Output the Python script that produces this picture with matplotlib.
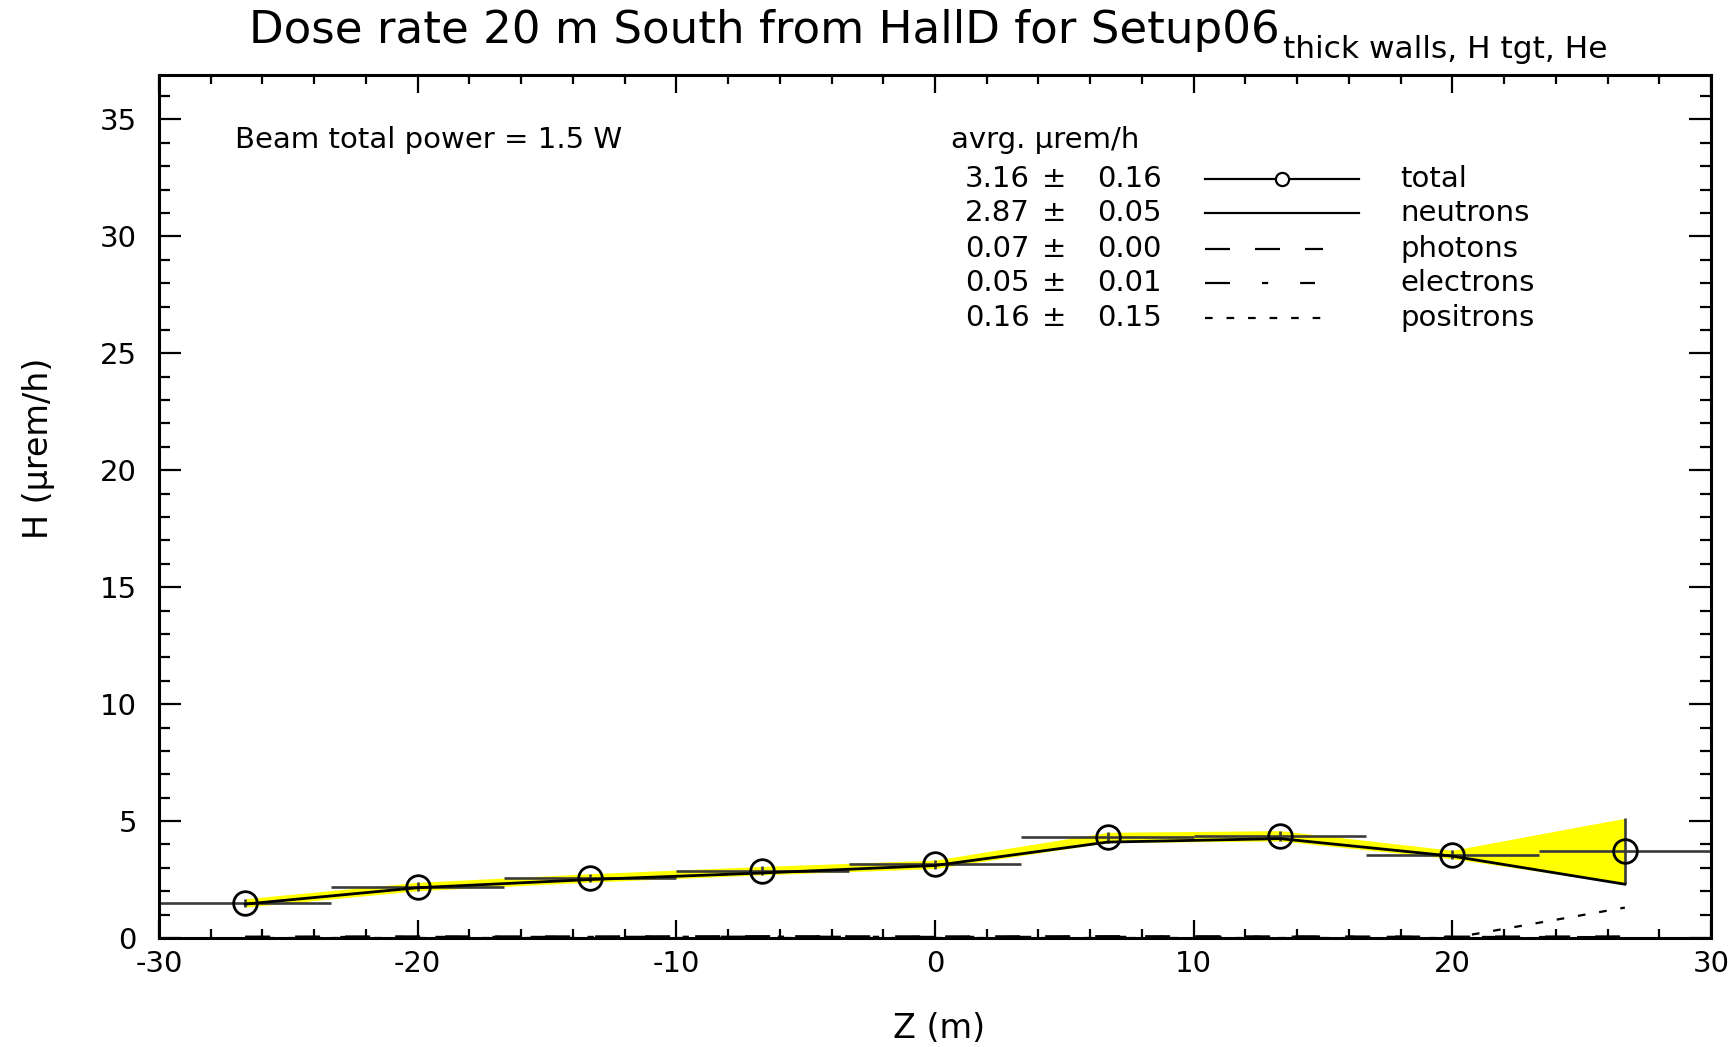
import matplotlib
matplotlib.use('Agg')
import matplotlib.pyplot as plt
from matplotlib.ticker import MultipleLocator
import numpy as np

plt.rcParams['font.family'] = ['DejaVu Sans']
plt.rcParams['lines.scale_dashes'] = False
plt.rcParams['axes.unicode_minus'] = False

# bin centres along Z (m), bin half width
z = [-26.67, -20.0, -13.33, -6.67, 0.0, 6.67, 13.33, 20.0, 26.67]
bin_half = 3.333

total = [1.50, 2.20, 2.57, 2.88, 3.15, 4.30, 4.37, 3.57, 3.72]
total_err = [0.18, 0.18, 0.18, 0.18, 0.18, 0.22, 0.22, 0.18, 1.40]
neutrons = [1.45, 2.15, 2.50, 2.78, 3.10, 4.10, 4.25, 3.50, 2.30]
photons = [0.06, 0.07, 0.07, 0.08, 0.07, 0.08, 0.07, 0.06, 0.07]
electrons = [0.04, 0.05, 0.05, 0.06, 0.05, 0.05, 0.06, 0.05, 0.04]
positrons = [0.0, 0.0, 0.0, 0.0, 0.0, 0.0, 0.0, 0.0, 1.30]

names = ['total', 'neutrons', 'photons', 'electrons', 'positrons']
avg_vals = [3.16, 2.87, 0.07, 0.05, 0.16]
avg_errs = [0.16, 0.05, 0.00, 0.01, 0.15]

fig = plt.figure(figsize=(17.33, 10.47), dpi=100)
ax = fig.add_axes([159/1733, 109/1047, 1552/1733, 863/1047])

tot = np.array(total)
terr = np.array(total_err)

ax.fill_between(z, tot - terr, tot + terr, color='#ffff00', lw=0, zorder=1)
ax.errorbar(z, total, xerr=bin_half, yerr=total_err, fmt='none',
            ecolor='#3a3a3a', elinewidth=1.9, capsize=0, zorder=2)
ax.plot(z, neutrons, '-', color='black', lw=2, zorder=3)
ax.plot(z, photons, color='black', lw=1.5, dashes=(18, 18), zorder=3)
ax.plot(z, electrons, color='black', lw=1.5, dashes=(18, 23, 4.5, 23), zorder=3)
ax.plot(z, positrons, color='black', lw=1.6, dashes=(5.5, 10), zorder=3)
ax.plot(z, total, 'o', mfc='none', mec='black', ms=17, mew=2, zorder=4)

ax.set_xlim(-30, 30)
ax.set_ylim(0, 36.9)
ax.xaxis.set_major_locator(MultipleLocator(10))
ax.xaxis.set_minor_locator(MultipleLocator(2))
ax.yaxis.set_major_locator(MultipleLocator(5))
ax.yaxis.set_minor_locator(MultipleLocator(1))
ax.tick_params(which='both', direction='in', top=True, right=True, width=1.6,
               labelsize=21)
ax.tick_params(axis='y', which='major', length=16, pad=16)
ax.tick_params(axis='y', which='minor', length=8)
ax.tick_params(axis='x', which='major', length=13, pad=9)
ax.tick_params(axis='x', which='minor', length=6.5)
for s in ax.spines.values():
    s.set_linewidth(2.2)

fig.text(39/1733, 1 - 448/1047, 'H (\u00b5rem/h)', rotation=90,
         ha='center', va='center', fontsize=24)
fig.text(939/1733, 1 - 1028/1047, 'Z (m)', ha='center', va='center',
         fontsize=24)

t = fig.text(249/1733, 1 - 31/1047,
             'Dose rate 20 m South from HallD for Setup06',
             ha='left', va='center', fontsize=32.5)
fig.canvas.draw()
bb = t.get_window_extent()
fig.text(bb.x1 / fig.bbox.width + 0.002, 1 - 50/1047,
         'thick walls, H tgt, He', ha='left', va='center', fontsize=22.5)

ax.text(0.049, 0.925, 'Beam total power = 1.5 W', transform=ax.transAxes,
        ha='left', va='center', fontsize=21)
ax.text(0.510, 0.925, 'avrg. \u00b5rem/h', transform=ax.transAxes,
        ha='left', va='center', fontsize=21)

row_y = [0.879, 0.840, 0.798, 0.759, 0.718]
styles = [dict(ls='-'), dict(ls='-'), dict(dashes=(18, 18)),
          dict(dashes=(18, 23, 4.5, 23)), dict(dashes=(5.5, 10))]
ends = [0.773, 0.773, 0.750, 0.745, 0.757]
for i, name in enumerate(names):
    y = row_y[i]
    ax.text(0.561, y, f'{avg_vals[i]:.2f}', transform=ax.transAxes,
            ha='right', va='center', fontsize=21)
    ax.text(0.577, y, '\u00b1', transform=ax.transAxes,
            ha='center', va='center', fontsize=21)
    ax.text(0.646, y, f'{avg_errs[i]:.2f}', transform=ax.transAxes,
            ha='right', va='center', fontsize=21)
    ax.text(0.800, y, name, transform=ax.transAxes,
            ha='left', va='center', fontsize=21)
    ax.plot([0.674, ends[i]], [y, y], color='black', lw=1.6,
            transform=ax.transAxes, **styles[i])
ax.plot([0.7236], [row_y[0]], 'o', mfc='white', mec='black', ms=9.5, mew=1.6,
        transform=ax.transAxes)

plt.savefig('out.png', dpi=100)
